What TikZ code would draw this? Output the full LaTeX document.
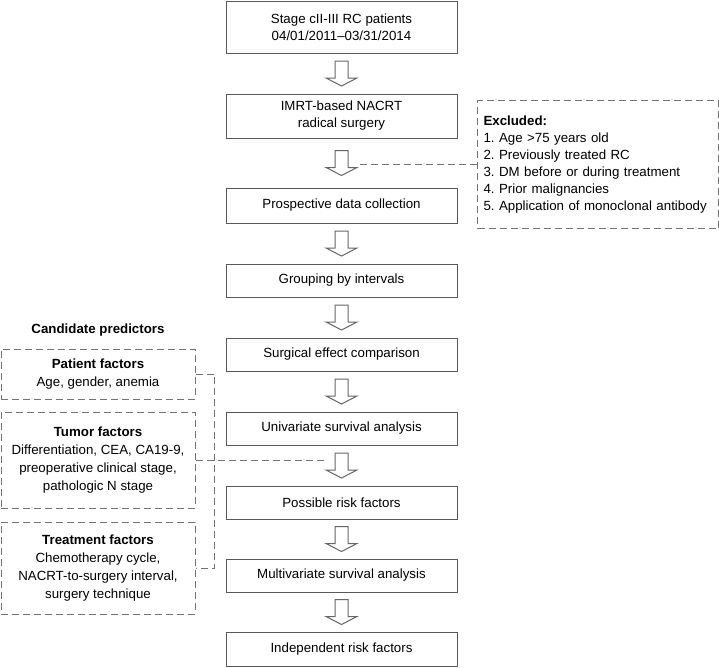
\documentclass[tikz,border=0pt]{standalone}
\usepackage{fontspec}
\setmainfont{Liberation Sans}
\usetikzlibrary{calc}

\tikzset{every picture/.style={line width=1pt}}
\tikzset{
  mainbox/.style={draw=black!65, minimum width=231pt, inner sep=0pt, align=center,
    font=\fontsize{13.3}{17}\selectfont},
  dashbox/.style={draw=black!55, dash pattern=on 7pt off 4pt, inner sep=0pt,
    font=\fontsize{13.3}{18}\selectfont},
  dashlink/.style={draw=black!55, dash pattern=on 7pt off 4pt},
  blockarrow/.style={draw=black!60, fill=white, line join=miter}
}
% hollow down arrow between two boxes, #3 names its middle
\newcommand{\flowarrow}[3]{%
  \coordinate (#3) at ($(#1.south)!0.5!(#2.north)$);
  \draw[blockarrow] ($(#3)+(-6.5,-12.5)$) -- ++(13,0) -- ++(0,17) -- ++(9,0)
    -- ($(#3)+(0,12.5)$) -- ($(#3)+(-15.5,4.5)$) -- ++(9,0) -- cycle;
}

\begin{document}
\frenchspacing
\begin{tikzpicture}[x=1pt,y=1pt,yscale=-1]
\useasboundingbox (0,0) rectangle (719,667);

% main flow
\node[mainbox, minimum height=52pt] (start) at (341.5,27) {Stage cII-III RC patients\\04/01/2011--03/31/2014};
\node[mainbox, minimum height=44pt] (nacrt) at (341.5,116) {IMRT-based NACRT\\radical surgery};
\node[mainbox, minimum height=35pt] (collect) at (341.5,205.5) {Prospective data collection};
\node[mainbox, minimum height=33pt] (group) at (341.5,280.5) {Grouping by intervals};
\node[mainbox, minimum height=33pt] (compare) at (341.5,354.5) {Surgical effect comparison};
\node[mainbox, minimum height=33pt] (univ) at (341.5,428.5) {Univariate survival analysis};
\node[mainbox, minimum height=33pt] (possible) at (341.5,502.5) {Possible risk factors};
\node[mainbox, minimum height=33pt] (multi) at (341.5,575.5) {Multivariate survival analysis};
\node[mainbox, minimum height=34pt] (indep) at (341.5,649) {Independent risk factors};

\flowarrow{start}{nacrt}{a1}
\flowarrow{nacrt}{collect}{a2}
\flowarrow{collect}{group}{a3}
\flowarrow{group}{compare}{a4}
\flowarrow{compare}{univ}{a5}
\flowarrow{univ}{possible}{a6}
\flowarrow{possible}{multi}{a7}
\flowarrow{multi}{indep}{a8}

% exclusion criteria
\node[dashbox, anchor=north west, minimum width=241pt, minimum height=128pt,
  text width=229pt, align=left, inner xsep=6pt,
  font=\fontsize{13.3}{17}\selectfont] (excl) at (477,100)
  {\textbf{Excluded:}\\1. Age >75 years old\\2. Previously treated RC\\3. DM before or during treatment\\4. Prior malignancies\\5. Application of monoclonal antibody};
\draw[dashlink] (excl.west) -- ([xshift=16.5pt]a2 |- excl.west);

% candidate predictors
\node[font=\fontsize{13.3}{17}\selectfont\bfseries] (cand) at (98,330) {Candidate predictors};
\node[dashbox, minimum width=194pt, minimum height=50pt, align=center] (patient) at (98,374)
  {\textbf{Patient factors}\\Age, gender, anemia};
\node[dashbox, minimum width=194pt, minimum height=96pt, align=center] (tumor) at (98,460)
  {\textbf{Tumor factors}\\Differentiation, CEA, CA19-9,\\preoperative clinical stage,\\pathologic N stage};
\node[dashbox, minimum width=194pt, minimum height=92pt, align=center] (treat) at (98,568)
  {\textbf{Treatment factors}\\Chemotherapy cycle,\\NACRT-to-surgery interval,\\surgery technique};

\draw[dashlink] (patient.east) -- ++(19,0) |- (treat.east);
\draw[dashlink] (tumor.east) -- ([xshift=-15pt]a6 |- tumor.east);
\end{tikzpicture}
\end{document}
